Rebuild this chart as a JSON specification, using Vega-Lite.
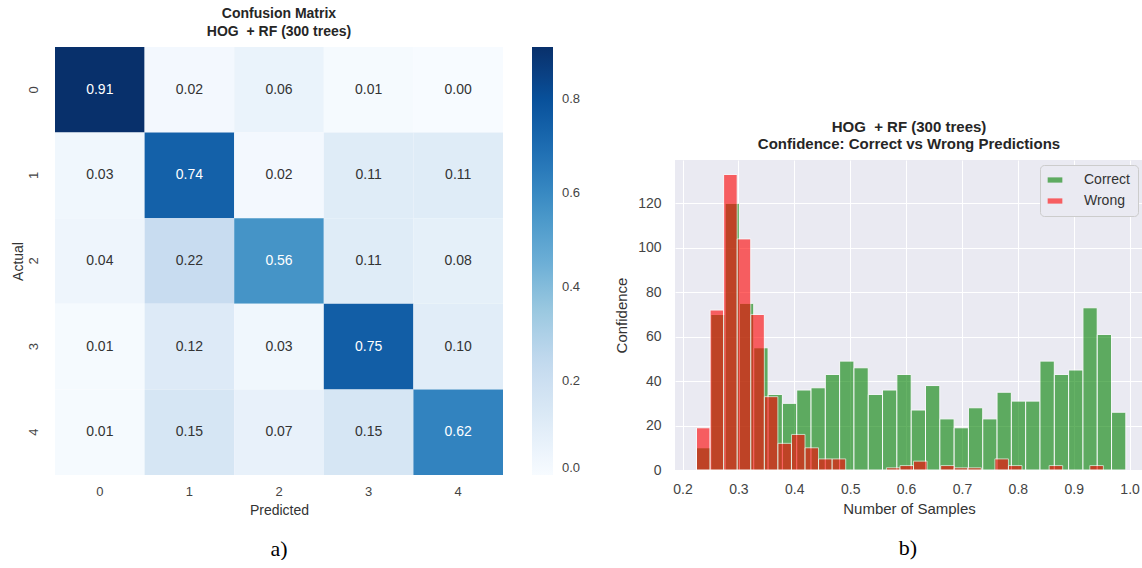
{
  "$schema": "https://vega.github.io/schema/vega-lite/v6.json",
  "background": "white",
  "padding": {"left": 11, "top": 7, "right": 0, "bottom": 0},
  "config": {
    "font": "Liberation Sans",
    "view": {"stroke": null},
    "axis": {"labelColor": "#444444", "titleColor": "#333333", "labelFont": "Liberation Sans", "titleFont": "Liberation Sans", "titleFontWeight": "normal", "domain": false, "ticks": false},
    "title": {"font": "Liberation Sans", "color": "#262626"},
    "legend": {"labelFont": "Liberation Sans"}
  },
  "resolve": {"scale": {"color": "independent"}, "legend": {"color": "independent"}},
  "spacing": 33,
  "hconcat": [
    {
      "title": {"text": "a)", "orient": "bottom", "anchor": "middle", "dx": -17, "font": "Liberation Serif", "fontSize": 22, "fontWeight": "normal", "color": "#000000", "offset": 22},
      "resolve": {"scale": {"color": "independent"}, "legend": {"color": "independent"}},
      "vconcat": [
        {
          "title": {"text": ["Confusion Matrix", "HOG\u00a0 + RF (300 trees)"], "fontSize": 14, "fontWeight": "bold", "lineHeight": 18, "offset": 8},
          "width": 448,
          "height": 428,
          "data": {"values": [
            {"actual": 0, "predicted": 0, "value": 0.91},
            {"actual": 0, "predicted": 1, "value": 0.02},
            {"actual": 0, "predicted": 2, "value": 0.06},
            {"actual": 0, "predicted": 3, "value": 0.01},
            {"actual": 0, "predicted": 4, "value": 0.00},
            {"actual": 1, "predicted": 0, "value": 0.03},
            {"actual": 1, "predicted": 1, "value": 0.74},
            {"actual": 1, "predicted": 2, "value": 0.02},
            {"actual": 1, "predicted": 3, "value": 0.11},
            {"actual": 1, "predicted": 4, "value": 0.11},
            {"actual": 2, "predicted": 0, "value": 0.04},
            {"actual": 2, "predicted": 1, "value": 0.22},
            {"actual": 2, "predicted": 2, "value": 0.56},
            {"actual": 2, "predicted": 3, "value": 0.11},
            {"actual": 2, "predicted": 4, "value": 0.08},
            {"actual": 3, "predicted": 0, "value": 0.01},
            {"actual": 3, "predicted": 1, "value": 0.12},
            {"actual": 3, "predicted": 2, "value": 0.03},
            {"actual": 3, "predicted": 3, "value": 0.75},
            {"actual": 3, "predicted": 4, "value": 0.10},
            {"actual": 4, "predicted": 0, "value": 0.01},
            {"actual": 4, "predicted": 1, "value": 0.15},
            {"actual": 4, "predicted": 2, "value": 0.07},
            {"actual": 4, "predicted": 3, "value": 0.15},
            {"actual": 4, "predicted": 4, "value": 0.62}
          ]},
          "encoding": {
            "x": {"field": "predicted", "type": "ordinal", "title": "Predicted", "scale": {"paddingInner": 0, "paddingOuter": 0},
                  "axis": {"labelAngle": 0, "labelFontSize": 13, "titleFontSize": 14, "labelPadding": 10, "titlePadding": 5}},
            "y": {"field": "actual", "type": "ordinal", "title": "Actual", "scale": {"paddingInner": 0, "paddingOuter": 0},
                  "axis": {"labelAngle": -90, "labelAlign": "center", "labelBaseline": "middle", "labelFontSize": 13, "labelPadding": 22, "titleFontSize": 14, "titlePadding": 2}}
          },
          "layer": [
            {
              "mark": {"type": "rect"},
              "encoding": {
                "color": {"field": "value", "type": "quantitative",
                  "scale": {"domain": [0, 0.91], "range": ["#f7fbff", "#deebf7", "#c6dbef", "#9ecae1", "#6baed6", "#4292c6", "#2171b5", "#08519c", "#08306b"]},
                  "legend": {"orient": "right", "offset": 29, "title": null, "gradientLength": 428, "gradientThickness": 21, "values": [0, 0.2, 0.4, 0.6, 0.8], "format": ".1f", "labelFontSize": 13, "labelColor": "#444444", "labelOffset": 9, "labelFlush": false, "padding": 0, "gradientStrokeWidth": 0}}
              }
            },
            {
              "mark": {"type": "text", "fontSize": 14},
              "encoding": {
                "text": {"field": "value", "type": "quantitative", "format": ".2f"},
                "color": {"condition": {"test": "datum.value > 0.5", "value": "white"}, "value": "#333333"}
              }
            }
          ]
        }
      ]
    },
    {
      "title": {"text": "b)", "orient": "bottom", "anchor": "middle", "dx": 29, "font": "Liberation Serif", "fontSize": 22, "fontWeight": "normal", "color": "#000000", "offset": 22},
      "resolve": {"scale": {"color": "independent"}, "legend": {"color": "independent"}},
      "spacing": 0,
      "vconcat": [
        {
          "width": 468,
          "height": 73,
          "data": {"values": [{"s": ""}]},
          "mark": {"type": "text"},
          "encoding": {"text": {"field": "s", "type": "nominal"}}
        },
        {
          "title": {"text": ["HOG\u00a0 + RF (300 trees)", "Confidence: Correct vs Wrong Predictions"], "fontSize": 15, "fontWeight": "bold", "lineHeight": 17, "offset": 8},
          "width": 468,
          "height": 310,
          "view": {"fill": "#EAEAF2", "stroke": null},
          "data": {"values": [
            {"series": "Correct", "bin_start": 0.2250, "bin_end": 0.2506, "count": 10},
            {"series": "Correct", "bin_start": 0.2506, "bin_end": 0.2762, "count": 70},
            {"series": "Correct", "bin_start": 0.2762, "bin_end": 0.3018, "count": 120},
            {"series": "Correct", "bin_start": 0.3018, "bin_end": 0.3274, "count": 75},
            {"series": "Correct", "bin_start": 0.3274, "bin_end": 0.3531, "count": 55},
            {"series": "Correct", "bin_start": 0.3531, "bin_end": 0.3787, "count": 34},
            {"series": "Correct", "bin_start": 0.3787, "bin_end": 0.4043, "count": 30},
            {"series": "Correct", "bin_start": 0.4043, "bin_end": 0.4299, "count": 36},
            {"series": "Correct", "bin_start": 0.4299, "bin_end": 0.4555, "count": 37},
            {"series": "Correct", "bin_start": 0.4555, "bin_end": 0.4811, "count": 43},
            {"series": "Correct", "bin_start": 0.4811, "bin_end": 0.5067, "count": 49},
            {"series": "Correct", "bin_start": 0.5067, "bin_end": 0.5323, "count": 46},
            {"series": "Correct", "bin_start": 0.5323, "bin_end": 0.5579, "count": 34},
            {"series": "Correct", "bin_start": 0.5579, "bin_end": 0.5835, "count": 36},
            {"series": "Correct", "bin_start": 0.5835, "bin_end": 0.6092, "count": 43},
            {"series": "Correct", "bin_start": 0.6092, "bin_end": 0.6348, "count": 27},
            {"series": "Correct", "bin_start": 0.6348, "bin_end": 0.6604, "count": 38},
            {"series": "Correct", "bin_start": 0.6604, "bin_end": 0.6860, "count": 23},
            {"series": "Correct", "bin_start": 0.6860, "bin_end": 0.7116, "count": 19},
            {"series": "Correct", "bin_start": 0.7116, "bin_end": 0.7372, "count": 28},
            {"series": "Correct", "bin_start": 0.7372, "bin_end": 0.7628, "count": 23},
            {"series": "Correct", "bin_start": 0.7628, "bin_end": 0.7884, "count": 35},
            {"series": "Correct", "bin_start": 0.7884, "bin_end": 0.8140, "count": 31},
            {"series": "Correct", "bin_start": 0.8140, "bin_end": 0.8396, "count": 31},
            {"series": "Correct", "bin_start": 0.8396, "bin_end": 0.8653, "count": 49},
            {"series": "Correct", "bin_start": 0.8653, "bin_end": 0.8909, "count": 43},
            {"series": "Correct", "bin_start": 0.8909, "bin_end": 0.9165, "count": 45},
            {"series": "Correct", "bin_start": 0.9165, "bin_end": 0.9421, "count": 73},
            {"series": "Correct", "bin_start": 0.9421, "bin_end": 0.9677, "count": 61},
            {"series": "Correct", "bin_start": 0.9677, "bin_end": 0.9933, "count": 26},
            {"series": "Wrong", "bin_start": 0.2250, "bin_end": 0.2493, "count": 19},
            {"series": "Wrong", "bin_start": 0.2493, "bin_end": 0.2735, "count": 72},
            {"series": "Wrong", "bin_start": 0.2735, "bin_end": 0.2978, "count": 133},
            {"series": "Wrong", "bin_start": 0.2978, "bin_end": 0.3221, "count": 104},
            {"series": "Wrong", "bin_start": 0.3221, "bin_end": 0.3464, "count": 70},
            {"series": "Wrong", "bin_start": 0.3464, "bin_end": 0.3706, "count": 33},
            {"series": "Wrong", "bin_start": 0.3706, "bin_end": 0.3949, "count": 12},
            {"series": "Wrong", "bin_start": 0.3949, "bin_end": 0.4192, "count": 16},
            {"series": "Wrong", "bin_start": 0.4192, "bin_end": 0.4434, "count": 10},
            {"series": "Wrong", "bin_start": 0.4434, "bin_end": 0.4677, "count": 5},
            {"series": "Wrong", "bin_start": 0.4677, "bin_end": 0.4920, "count": 5},
            {"series": "Wrong", "bin_start": 0.5648, "bin_end": 0.5891, "count": 1},
            {"series": "Wrong", "bin_start": 0.5891, "bin_end": 0.6133, "count": 2},
            {"series": "Wrong", "bin_start": 0.6133, "bin_end": 0.6376, "count": 4},
            {"series": "Wrong", "bin_start": 0.6619, "bin_end": 0.6861, "count": 2},
            {"series": "Wrong", "bin_start": 0.6861, "bin_end": 0.7104, "count": 1},
            {"series": "Wrong", "bin_start": 0.7104, "bin_end": 0.7347, "count": 1},
            {"series": "Wrong", "bin_start": 0.7589, "bin_end": 0.7832, "count": 5},
            {"series": "Wrong", "bin_start": 0.7832, "bin_end": 0.8075, "count": 2},
            {"series": "Wrong", "bin_start": 0.8560, "bin_end": 0.8803, "count": 2},
            {"series": "Wrong", "bin_start": 0.9288, "bin_end": 0.9531, "count": 2}
          ]},
          "mark": {"type": "rect", "opacity": 0.6, "stroke": "white", "strokeWidth": 1},
          "encoding": {
            "x": {"field": "bin_start", "type": "quantitative", "title": "Number of Samples",
                  "scale": {"domain": [0.1865, 1.024], "nice": false, "zero": false},
                  "axis": {"values": [0.2, 0.3, 0.4, 0.5, 0.6, 0.7, 0.8, 0.9, 1.0], "format": ".1f", "grid": true, "gridColor": "white", "labelFontSize": 14, "labelPadding": 12, "titleFontSize": 15, "titlePadding": 5}},
            "x2": {"field": "bin_end"},
            "y": {"field": "count", "type": "quantitative", "title": "Confidence",
                  "scale": {"domain": [0, 139.5], "nice": false},
                  "axis": {"values": [0, 20, 40, 60, 80, 100, 120], "grid": true, "gridColor": "white", "labelFontSize": 14, "labelPadding": 14, "titleFontSize": 15, "titlePadding": 8}},
            "color": {"field": "series", "type": "nominal", "scale": {"domain": ["Correct", "Wrong"], "range": ["green", "red"]},
                  "legend": {"orient": "top-right", "offset": 5, "title": null, "labelFontSize": 14, "labelColor": "#333333", "symbolType": "M-1.4,-0.5H1.4V0.5H-1.4Z", "symbolSize": 110, "symbolOpacity": 0.6, "symbolStrokeWidth": 0, "labelOffset": 22, "rowPadding": 7, "padding": 8, "fillColor": "#EAEAF2", "strokeColor": "#cccccc", "cornerRadius": 4}}
          }
        }
      ]
    }
  ]
}
